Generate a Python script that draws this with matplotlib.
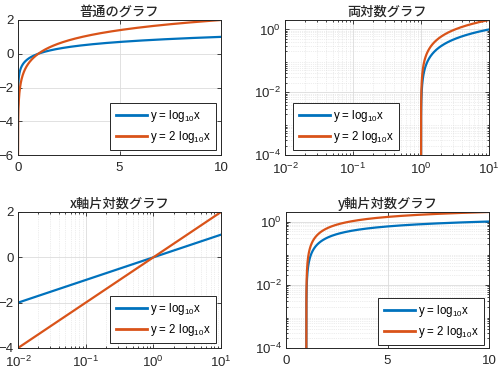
import numpy as np
import matplotlib
matplotlib.use("Agg")
import matplotlib.pyplot as plt

plt.rcParams['font.family'] = ['Liberation Sans', 'Noto Sans CJK JP', 'DejaVu Sans']
plt.rcParams['mathtext.fontset'] = 'custom'
plt.rcParams['mathtext.rm'] = 'Liberation Sans'
plt.rcParams['mathtext.it'] = 'Liberation Sans:italic'
plt.rcParams['mathtext.bf'] = 'Liberation Sans:bold'

# data
x_start, x_stop, n_points = 0.001, 10.0, 10000
coefficients = [1, 2]
labels = [r'y = log$_{10}$x', r'y = 2 log$_{10}$x']
colors = ['#0072BD', '#D95319']
titles = ['普通のグラフ', '両対数グラフ', 'x軸片対数グラフ', 'y軸片対数グラフ']

x = np.linspace(x_start, x_stop, n_points)
series = [c * np.log10(x) for c in coefficients]

W, H = 500, 373
fig = plt.figure(figsize=(W / 100, H / 100), dpi=100)

def rect(l, r, t, b):
    return [l / W, 1 - b / H, (r - l) / W, (b - t) / H]

axc = '#262626'
gridc = '#dcdcdc'

positions = [rect(18, 221, 20, 155), rect(285, 489, 20, 155),
             rect(18, 221, 212, 348), rect(286, 489, 212, 348)]
# legend box (left, top, right, bottom) in pixels
legend_boxes = [(109, 105, 217, 148), (292, 105, 400, 148),
                (109, 298, 217, 341), (377, 300, 485, 343)]

for i, pos in enumerate(positions):
    ax = fig.add_axes(pos)
    for y, lab, col in zip(series, labels, colors):
        ax.plot(x, y, color=col, lw=1.6, label=lab)
    if i == 0:
        ax.set_xlim(0, 10); ax.set_ylim(-6, 2)
        ax.set_xticks([0, 5, 10]); ax.set_yticks([-6, -4, -2, 0, 2])
        ax.grid(True, color=gridc, lw=0.6)
    elif i == 1:
        ax.set_xscale('log'); ax.set_yscale('log')
        ax.set_xlim(1e-2, 10); ax.set_ylim(1e-4, 2)
        ax.set_xticks([1e-2, 1e-1, 1e0, 1e1]); ax.set_yticks([1e-4, 1e-2, 1e0])
        ax.grid(True, which='major', color=gridc, lw=0.6)
        ax.grid(True, which='minor', color=gridc, lw=0.5, ls=':')
    elif i == 2:
        ax.set_xscale('log')
        ax.set_xlim(1e-2, 10); ax.set_ylim(-4, 2)
        ax.set_xticks([1e-2, 1e-1, 1e0, 1e1]); ax.set_yticks([-4, -2, 0, 2])
        ax.grid(True, which='major', color=gridc, lw=0.6)
        ax.grid(True, which='minor', axis='x', color=gridc, lw=0.5, ls=':')
    else:
        ax.set_yscale('log')
        ax.set_xlim(0, 10); ax.set_ylim(1e-4, 2)
        ax.set_xticks([0, 5, 10]); ax.set_yticks([1e-4, 1e-2, 1e0])
        ax.grid(True, which='major', color=gridc, lw=0.6)
        ax.grid(True, which='minor', axis='y', color=gridc, lw=0.5, ls=':')
    ax.set_axisbelow(True)
    ax.tick_params(which='both', direction='in', colors=axc, labelsize=9.5,
                   length=3, width=0.6, top=True, right=True, pad=3)
    ax.tick_params(axis='x', which='major', pad=5)
    ax.tick_params(which='minor', length=1.5)
    for s in ax.spines.values():
        s.set_color(axc); s.set_linewidth(0.7)
    ax.set_title(titles[i], fontsize=9.5, family=['Noto Sans CJK JP'],
                 fontweight='medium', color='#262626', pad=3)
    l, t, r, b = legend_boxes[i]
    leg = ax.legend(loc='center',
                    bbox_to_anchor=((l + r) / 2 / W, 1 - (t + b) / 2 / H),
                    bbox_transform=fig.transFigure,
                    fontsize=8.3, frameon=True, fancybox=False, framealpha=1,
                    edgecolor=axc, handlelength=2.7, borderaxespad=0,
                    handletextpad=0.25, labelspacing=0.4, borderpad=0.45)
    leg.get_frame().set_linewidth(0.7)
    for line in leg.get_lines():
        line.set_linewidth(2)

fig.savefig('out.png', dpi=100)
